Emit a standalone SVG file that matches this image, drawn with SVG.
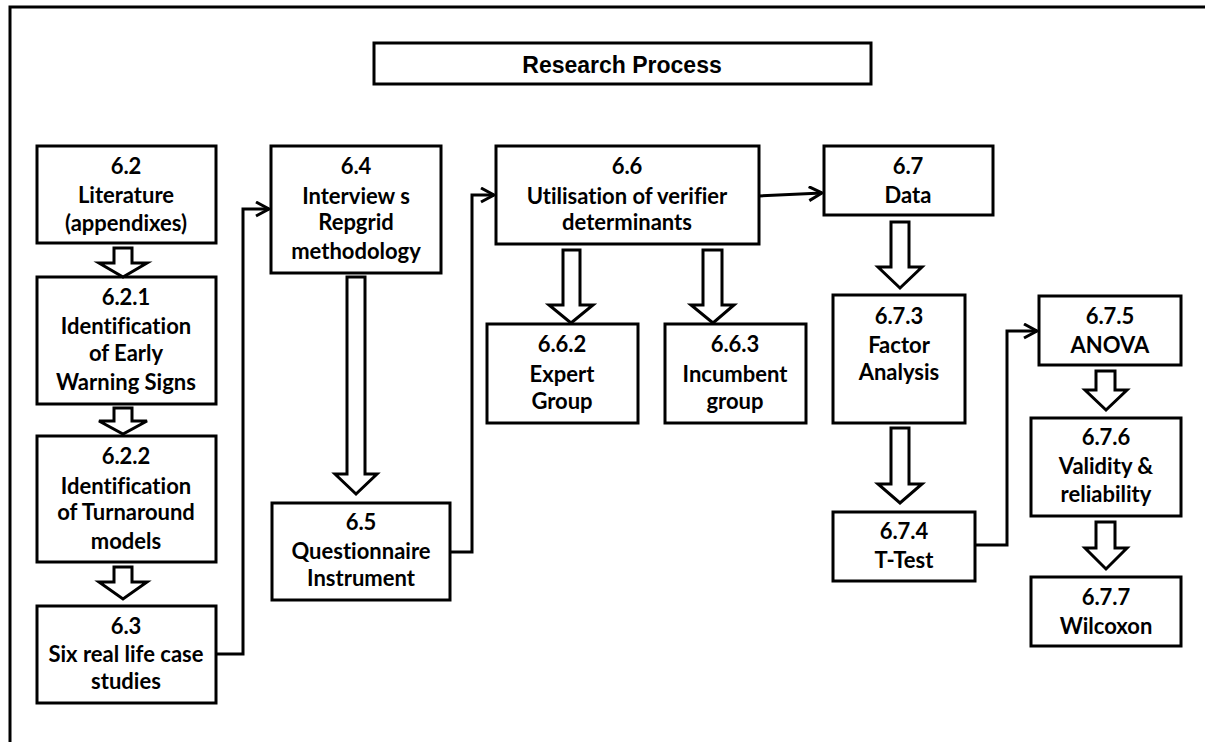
<svg xmlns="http://www.w3.org/2000/svg" width="1205" height="742" viewBox="0 0 1205 742">
<style>
.box{fill:#fff;stroke:#000;stroke-width:3}
.blk{fill:#fff;stroke:#000;stroke-width:3;stroke-linejoin:miter}
.con{fill:none;stroke:#000;stroke-width:3}
text{font-family:Lato,"Open Sans",sans-serif;font-weight:bold;font-size:22px;text-anchor:middle;fill:#000;font-variant-ligatures:none}
.title{font-family:"Liberation Sans",Arial,sans-serif;font-size:23px}
</style>
<defs>
<marker id="ah" markerUnits="userSpaceOnUse" markerWidth="20" markerHeight="20" refX="14" refY="8" orient="auto">
<path d="M1,1 L14,8 L1,15" fill="none" stroke="#000" stroke-width="3"/>
</marker>
</defs>
<rect x="10" y="7" width="1300" height="800" fill="none" stroke="#000" stroke-width="3"/>
<g id="title"><rect class="box" x="374" y="43" width="497" height="41"/><text class="title" x="622" y="73">Research Process</text></g>
<g id="n62"><rect class="box" x="37" y="146" width="179" height="97"/><text x="126" y="174">6.2</text><text x="126" y="203">Literature</text><text x="126" y="231">(appendixes)</text></g>
<g id="n621"><rect class="box" x="37" y="277" width="179" height="127"/><text x="126" y="305">6.2.1</text><text x="126" y="334">Identification</text><text x="126" y="361">of Early</text><text x="126" y="390">Warning Signs</text></g>
<g id="n622"><rect class="box" x="37" y="436" width="179" height="126"/><text x="126" y="464">6.2.2</text><text x="126" y="494">Identification</text><text x="126" y="520">of Turnaround</text><text x="126" y="549">models</text></g>
<g id="n63"><rect class="box" x="37" y="606" width="179" height="97"/><text x="126" y="634">6.3</text><text x="126" y="662">Six real life case</text><text x="126" y="689">studies</text></g>
<g id="n64"><rect class="box" x="271" y="146" width="170" height="127"/><text x="356" y="174">6.4</text><text x="356" y="204">Interview s</text><text x="356" y="230">Repgrid</text><text x="356" y="259">methodology</text></g>
<g id="n65"><rect class="box" x="272" y="503" width="178" height="97"/><text x="361" y="530">6.5</text><text x="361" y="559">Questionnaire</text><text x="361" y="586">Instrument</text></g>
<g id="n66"><rect class="box" x="496" y="146" width="263" height="98"/><text x="627" y="174">6.6</text><text x="627" y="204">Utilisation of verifier</text><text x="627" y="230">determinants</text></g>
<g id="n662"><rect class="box" x="487" y="324" width="151" height="99"/><text x="562" y="352">6.6.2</text><text x="562" y="382">Expert</text><text x="562" y="409">Group</text></g>
<g id="n663"><rect class="box" x="665" y="324" width="141" height="99"/><text x="735" y="352">6.6.3</text><text x="735" y="382">Incumbent</text><text x="735" y="409">group</text></g>
<g id="n67"><rect class="box" x="824" y="146" width="169" height="69"/><text x="908" y="174">6.7</text><text x="908" y="203">Data</text></g>
<g id="n673"><rect class="box" x="833" y="295" width="132" height="128"/><text x="899" y="324">6.7.3</text><text x="899" y="353">Factor</text><text x="899" y="380">Analysis</text></g>
<g id="n674"><rect class="box" x="833" y="512" width="142" height="69"/><text x="904" y="539">6.7.4</text><text x="904" y="568">T-Test</text></g>
<g id="n675"><rect class="box" x="1039" y="296" width="142" height="69"/><text x="1110" y="324">6.7.5</text><text x="1110" y="353">ANOVA</text></g>
<g id="n676"><rect class="box" x="1031" y="418" width="150" height="98"/><text x="1106" y="445">6.7.6</text><text x="1106" y="474">Validity &amp;</text><text x="1106" y="502">reliability</text></g>
<g id="n677"><rect class="box" x="1031" y="577" width="150" height="69"/><text x="1106" y="605">6.7.7</text><text x="1106" y="634">Wilcoxon</text></g>
<g id="connectors">
<path class="con" d="M216,654 H243 V209 H269" marker-end="url(#ah)"/>
<path class="con" d="M450,552 H472 V195 H494" marker-end="url(#ah)"/>
<path class="con" d="M759,196 L822,193" marker-end="url(#ah)"/>
<path class="con" d="M975,545 H1007 V331 H1037" marker-end="url(#ah)"/>
<path class="blk" d="M114,248 H132 V263 H147 L123,277 L99,263 H114 Z"/>
<path class="blk" d="M114,408 H132 V421 H147 L123,434 L99,421 H114 Z"/>
<path class="blk" d="M114,567 H132 V582 H147 L123,599 L99,582 H114 Z"/>
<path class="blk" d="M347,277 H365 V474 H377 L356,494 L335,474 H347 Z"/>
<path class="blk" d="M563,250 H580 V305 H593 L571,323 L549,305 H563 Z"/>
<path class="blk" d="M703,250 H722 V305 H734 L713,323 L691,305 H703 Z"/>
<path class="blk" d="M891,222 H909 V267 H922 L900,288 L878,267 H891 Z"/>
<path class="blk" d="M891,428 H909 V484 H922 L900,503 L878,484 H891 Z"/>
<path class="blk" d="M1096,371 H1115 V390 H1127 L1106,410 L1085,390 H1096 Z"/>
<path class="blk" d="M1096,522 H1115 V548 H1127 L1106,569 L1085,548 H1096 Z"/>
</g>
</svg>
